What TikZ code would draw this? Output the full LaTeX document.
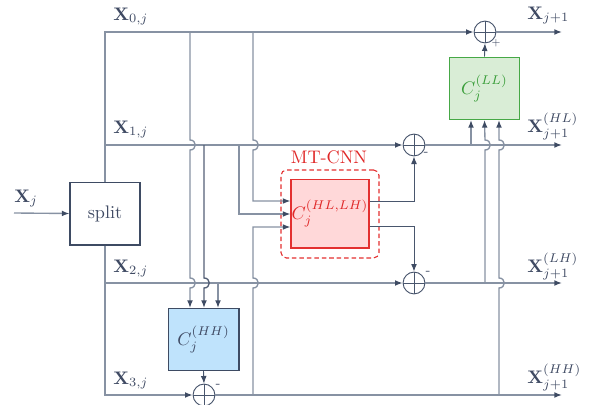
\documentclass[tikz,border=0pt]{standalone}
\usetikzlibrary{arrows.meta}
\definecolor{ln}{HTML}{8792A3}
\definecolor{dk}{HTML}{3E4B63}
\definecolor{tx}{HTML}{3F4A63}
\definecolor{hhfill}{HTML}{BFE3FC}
\definecolor{llfill}{HTML}{D9EDD6}
\definecolor{llline}{HTML}{46A846}
\definecolor{lltx}{HTML}{3A9E3A}
\definecolor{hlfill}{HTML}{FFD8D9}
\definecolor{hlline}{HTML}{E33030}
\definecolor{hltx}{HTML}{E02828}
\begin{document}
\begin{tikzpicture}[x=0.55pt,y=-0.55pt,
  wire/.style={draw=ln,line width=0.75pt},
  dwire/.style={draw=dk!85!ln,line width=0.5pt},
  arr/.style={-{Latex[length=4.2pt,width=3.2pt,color=dk]}},
  sum/.style={circle,draw=dk!85!ln,line width=0.5pt,minimum size=12pt,inner sep=0pt,
    path picture={\draw[dk!85!ln,line width=0.5pt] (path picture bounding box.north)--(path picture bounding box.south)
      (path picture bounding box.west)--(path picture bounding box.east);}},
  blk/.style={draw=dk,line width=0.6pt,fill=white,text=tx,inner sep=0pt},
  lab/.style={text=tx,anchor=base west,inner sep=0pt},
  sign/.style={text=tx,font=\scriptsize,inner sep=0pt},
]
\useasboundingbox (0,0) rectangle (591,405);

% blocks
\node[blk,minimum width=38.5pt,minimum height=34.6pt] (split) at (105,213.5) {split};
\node[blk,fill=hhfill,minimum width=39pt,minimum height=34.1pt] (hh) at (203.5,339.5) {$C_j^{(HH)}$};
\node[draw=hlline,dashed,dash pattern=on 2.5pt off 1.6pt,rounded corners=3pt,line width=0.6pt,
      minimum width=53.9pt,minimum height=48.4pt,inner sep=0pt] (mt) at (330,214) {};
\node[blk,draw=hlline,fill=hlfill,text=hltx,minimum width=42.9pt,minimum height=37.9pt] (hl) at (330,213.5) {$C_j^{(HL,LH)}$};
\node[text=hltx,anchor=base,inner sep=0pt] (mtl) at (329,163) {MT-CNN};
\node[blk,draw=llline,line width=0.55pt,fill=llfill,text=lltx,minimum width=38.5pt,minimum height=34.3pt] (ll) at (484.5,88.3) {$C_j^{(LL)}$};

% adders
\node[sum] (s0) at (485,32) {};
\node[sum] (s1) at (414,145) {};
\node[sum] (s2) at (414,283) {};
\node[sum] (s3) at (204,395) {};
\node[sign,font=\tiny] (g0) at (496,43) {+};
\node[sign] (g1) at (426,154) {-};
\node[sign] (g2) at (428,273) {-};
\node[sign] (g3) at (218,386) {-};

% coordinates
\coordinate (xin) at (14,213);
\coordinate (b1) at (105,145);
\coordinate (b2) at (105,283);
\coordinate (o0) at (562,32);
\coordinate (o1) at (562,145);
\coordinate (o2) at (562,283);
\coordinate (o3) at (562,395);
\coordinate (i1) at (253,201);
\coordinate (i2) at (239,214);
\coordinate (i3) at (253,227);
\coordinate (r1) at (414,201);
\coordinate (r2) at (414,226);
\coordinate (c1) at (471,145);
\coordinate (c3) at (499,140);

% labels
\node[lab] (lx) at (14,202) {$\mathbf{X}_j$};
\node[lab] (l0) at (113,20) {$\mathbf{X}_{0,j}$};
\node[lab] (l1) at (113,133) {$\mathbf{X}_{1,j}$};
\node[lab] (l2) at (113,272) {$\mathbf{X}_{2,j}$};
\node[lab] (l3) at (113,384) {$\mathbf{X}_{3,j}$};
\node[lab] (m0) at (527,19) {$\mathbf{X}_{j+1}$};
\node[lab] (m1) at (527,132) {$\mathbf{X}^{(HL)}_{j+1}$};
\node[lab] (m2) at (527,272) {$\mathbf{X}^{(LH)}_{j+1}$};
\node[lab] (m3) at (527,383) {$\mathbf{X}^{(HH)}_{j+1}$};

% input
\draw[wire,arr] (xin) -- (split.west);

% main bus
\draw[wire,arr] (split.north) |- (s0.west);
\draw[wire,arr] (b1) -- (s1.west);
\draw[wire,arr] (split.south) |- (s3.west);
\draw[wire,arr] (b2) -- (s2.west);

% outputs
\draw[wire,arr] (s0.east) -- (o0);
\draw[wire,arr] (s1.east) -- (o1);
\draw[wire,arr] (s2.east) -- (o2);
\draw[wire,arr] (s3.east) -- (o3);

% into C^(HH)
\draw[wire,arr] (190,32) -- (190,140) .. controls +(7,0) and +(7,0) .. (190,150)
   -- (190,278) .. controls +(7,0) and +(7,0) .. (190,288) -- (190,308);
\draw[wire,draw=dk!70!ln,arr] (204,145) -- (204,278) .. controls +(7,0) and +(7,0) .. (204,288) -- (204,308);
\draw[wire,arr] (218,283) -- (218,308);

% into C^(HL,LH)
\draw[wire,arr] (253,32) -- (253,140) .. controls +(7,0) and +(7,0) .. (253,150) -- (i1) -- (hl.west |- i1);
\draw[wire,arr] (239,145) -- (i2) -- (hl.west |- i2);
\draw[wire,arr] (253,395) -- (253,288) .. controls +(7,0) and +(7,0) .. (253,278) -- (i3) -- (hl.west |- i3);

% outputs of C^(HL,LH)
\draw[dwire,arr] (hl.east |- r1) -- (r1) -- (s1.south);
\draw[dwire,arr] (hl.east |- r2) -- (r2) -- (s2.north);
\draw[dwire,arr] (hh.south) -- (s3.north);

% into C^(LL)
\draw[wire,arr] (c1) -- (c1 |- ll.south);
\draw[wire,arr] (485,283) -- (485,150) .. controls +(7,0) and +(7,0) .. (485,140) -- (ll.south);
\draw[wire,arr] (499,395) -- (499,288) .. controls +(7,0) and +(7,0) .. (499,278)
   -- (499,150) .. controls +(7,0) and +(7,0) .. (c3) -- (c3 |- ll.south);
\draw[dwire,arr] (ll.north) -- (s0.south);
\end{tikzpicture}
\end{document}
